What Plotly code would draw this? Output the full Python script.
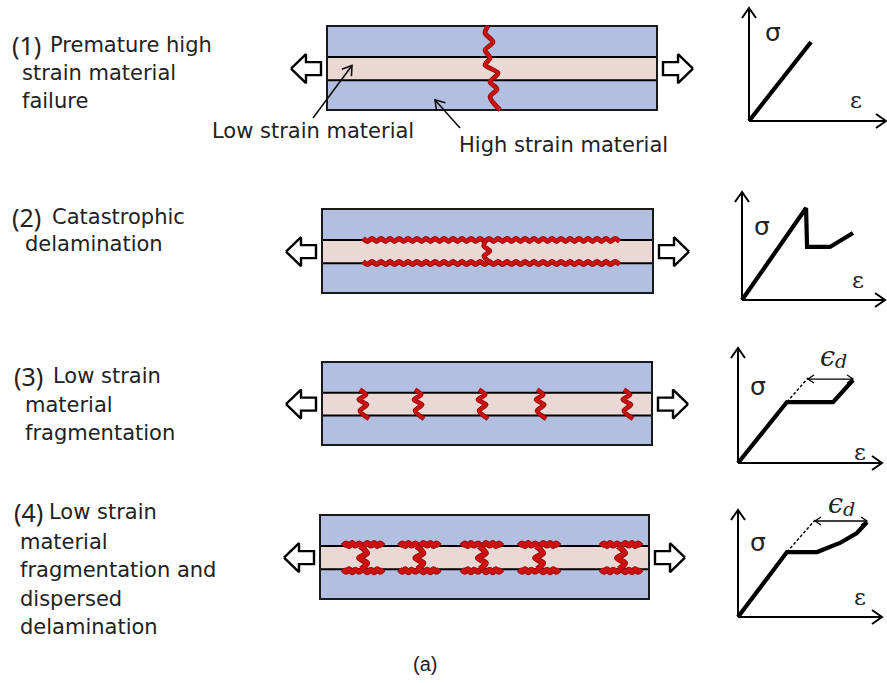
import math
import plotly.graph_objects as go

W, H = 887, 683

# ---------------- data ----------------
SPEC_LENGTH = 100.0                       # specimen length (% of gauge length)
LAYER_BOUNDS = [0.0, 3.55, 6.3, 10.0]     # thickness coordinates of the three plies
LAYER_COLORS = ["#b3bfe1", "#ead8d4", "#b3bfe1"]

CRACK_1 = [48.8]                          # through-thickness crack (1)
DELAM_2 = [12.4, 90.0]                    # delamination extent (2)
CRACK_2 = [49.5]                          # connecting crack (2)
CRACKS_3 = [12.4, 29.1, 48.5, 66.1, 92.4] # fragmentation cracks (3)
CRACKS_4 = [13.1, 30.2, 49.2, 66.6, 91.5] # fragmentation + local delamination (4)

# normalised stress-strain curves
SS1_STRAIN = [0.0, 0.453]
SS1_STRESS = [0.0, 0.699]
SS2_STRAIN = [0.0, 0.448, 0.455, 0.615, 0.776]
SS2_STRESS = [0.0, 0.852, 0.491, 0.491, 0.620]
SS3_STRAIN = [0.0, 0.340, 0.660, 0.799]
SS3_STRESS = [0.0, 0.530, 0.530, 0.722]
SS4_STRAIN = [0.0, 0.340, 0.549, 0.708, 0.826, 0.896]
SS4_STRESS = [0.0, 0.607, 0.607, 0.692, 0.785, 0.888]
SS3_DASH_STRAIN = [0.340, 0.486]
SS3_DASH_STRESS = [0.530, 0.739]
SS4_DASH_STRAIN = [0.340, 0.535]
SS4_DASH_STRESS = [0.607, 0.907]
ED3_STRAIN = [0.486, 0.799]
ED3_STRESS = 0.730
ED4_STRAIN = [0.535, 0.896]
ED4_STRESS = 0.897

ROW_TITLES = [
    ["(1)", "Premature high", "strain material", "failure"],
    ["(2)", "Catastrophic", "delamination"],
    ["(3)", "Low strain", "material", "fragmentation"],
    ["(4)", "Low strain", "material", "fragmentation and", "dispersed", "delamination"],
]
LEGEND_LABELS = ["Low strain material", "High strain material"]
CAPTION = "(a)"

# ---------------- layout helpers (pixel frames) ----------------
SPEC_BOX = [(327, 26, 657, 110), (322, 209, 653, 293), (322, 362, 652, 445), (320, 515, 649, 599)]
SS_BOX = [(749, 8, 886, 121), (742, 192, 885, 300), (738, 348, 882, 463), (738, 510, 882, 617)]

layout = dict(width=W, height=H, margin=dict(l=0, r=0, t=0, b=0),
              paper_bgcolor="white", plot_bgcolor="rgba(0,0,0,0)",
              showlegend=False, shapes=[], annotations=[])


def ax_names(n):
    return ("x" if n == 1 else "x%d" % n, "y" if n == 1 else "y%d" % n)


def frame(n, box, vals, pad):
    L, T, R, B = box
    x0, x1, y0, y1 = vals
    pl, pt, pr, pb = pad
    sx = (x1 - x0) / (R - L)
    sy = (y1 - y0) / (B - T)
    xn, yn = ax_names(n)
    layout["xaxis" if n == 1 else "xaxis%d" % n] = dict(
        domain=[max(0, (L - pl) / W), min(1, (R + pr) / W)],
        range=[x0 - pl * sx, x1 + pr * sx], visible=False, fixedrange=True, anchor=yn)
    layout["yaxis" if n == 1 else "yaxis%d" % n] = dict(
        domain=[max(0, 1 - (B + pb) / H), min(1, 1 - (T - pt) / H)],
        range=[y0 - pb * sy, y1 + pt * sy], visible=False, fixedrange=True, anchor=xn)
    return sx, sy


fig = go.Figure()
RED = "#cc1111"
DARKRED = "#8e0a0a"
TXT = "#222222"


def line(xn, yn, xs, ys, color="black", width=2, dash=None, shape="linear", fill=None, fillcolor=None):
    fig.add_trace(go.Scatter(x=xs, y=ys, xaxis=xn, yaxis=yn, mode="lines",
                             line=dict(color=color, width=width, dash=dash, shape=shape, smoothing=0.8),
                             fill=fill, fillcolor=fillcolor, hoverinfo="skip", showlegend=False))


def crack(xn, yn, xs, ys, width):
    line(xn, yn, xs, ys, color=DARKRED, width=width + 1.6, shape="spline")
    line(xn, yn, xs, ys, color=RED, width=width, shape="spline")


def chevron(xn, yn, sx, sy, tip, frm, arm, half, width, color="black"):
    """open V arrow head at data point `tip`, pointing away from data point `frm`."""
    dx = (tip[0] - frm[0]) / sx
    dy = (tip[1] - frm[1]) / sy
    d = math.hypot(dx, dy)
    ux, uy = dx / d, dy / d
    px_, py_ = -uy, ux
    pts = [(-arm * ux + half * px_, -arm * uy + half * py_), (0, 0),
           (-arm * ux - half * px_, -arm * uy - half * py_)]
    line(xn, yn, [tip[0] + p[0] * sx for p in pts], [tip[1] + p[1] * sy for p in pts],
         color=color, width=width)


def arrow(xn, yn, sx, sy, tail, head, arm, half, width, both=False, color="black"):
    line(xn, yn, [tail[0], head[0]], [tail[1], head[1]], color=color, width=width)
    chevron(xn, yn, sx, sy, head, tail, arm, half, width, color)
    if both:
        chevron(xn, yn, sx, sy, tail, head, arm, half, width, color)


def label(xn, yn, x, y, txt, family, size, style="normal"):
    layout["annotations"].append(dict(x=x, y=y, xref=xn, yref=yn, text=txt, showarrow=False,
                                      font=dict(family=family, size=size, color=TXT, style=style)))


ARROW_PX = [(0, 0), (15, 14.5), (15, 6.5), (30, 6.5), (30, -6.5), (15, -6.5), (15, -14.5), (0, 0)]
ymid = (LAYER_BOUNDS[1] + LAYER_BOUNDS[2]) / 2

spec_scales = []
for i in range(4):
    n = i + 1
    pad_b = 45 if i == 0 else 4
    sx, sy = frame(n, SPEC_BOX[i], (0, SPEC_LENGTH, LAYER_BOUNDS[0], LAYER_BOUNDS[-1]), (45, 4, 45, pad_b))
    spec_scales.append((sx, sy))
    xn, yn = ax_names(n)
    for k in range(3):
        layout["shapes"].append(dict(type="rect", xref=xn, yref=yn, x0=0, x1=SPEC_LENGTH,
                                     y0=LAYER_BOUNDS[k], y1=LAYER_BOUNDS[k + 1],
                                     fillcolor=LAYER_COLORS[k], line=dict(width=0), layer="below"))
    for yb in LAYER_BOUNDS[1:3]:
        layout["shapes"].append(dict(type="line", xref=xn, yref=yn, x0=0, x1=SPEC_LENGTH, y0=yb, y1=yb,
                                     line=dict(color="black", width=2), layer="below"))
    layout["shapes"].append(dict(type="rect", xref=xn, yref=yn, x0=0, x1=SPEC_LENGTH,
                                 y0=LAYER_BOUNDS[0], y1=LAYER_BOUNDS[-1],
                                 line=dict(color="#1a1a1a", width=2), layer="below"))
    # hollow loading arrows
    lx = [(-36 + p[0]) * sx for p in ARROW_PX]
    rx = [SPEC_LENGTH + (36 - p[0]) * sx for p in ARROW_PX]
    ay_ = [ymid + p[1] * sy for p in ARROW_PX]
    line(xn, yn, lx, ay_, color="black", width=2.4, fill="toself", fillcolor="white")
    line(xn, yn, rx, ay_, color="black", width=2.4, fill="toself", fillcolor="white")

# ---- panel 1 crack
sx, sy = spec_scales[0]
Z1 = [(0, 0), (-3, 7), (5, 16), (-3, 24), (2, 32), (-3, 39), (10, 47), (2, 56), (9, 63), (2, 71), (12, 84)]
for c in CRACK_1:
    crack("x", "y", [c + d[0] * sx for d in Z1], [LAYER_BOUNDS[-1] - d[1] * sy for d in Z1], 3.2)
# leader arrows
arrow("x", "y", sx, sy, (-14 * sx, LAYER_BOUNDS[-1] - 92 * sy), (25 * sx, 5.3), 9, 6, 1.6, color="#111")
arrow("x", "y", sx, sy, (133 * sx, LAYER_BOUNDS[-1] - 102 * sy), (108 * sx, 1.2), 9, 6, 1.6, color="#111")

# ---- panel 2 delamination
sx, sy = spec_scales[1]
xn, yn = ax_names(2)
STEP = 4.5
for yb in LAYER_BOUNDS[1:3]:
    xs, ys = [], []
    k = 0
    x = DELAM_2[0]
    while x <= DELAM_2[1]:
        xs.append(x)
        ys.append(yb + (1.6 if k % 2 == 0 else -1.2) * sy)
        x += STEP * sx
        k += 1
    crack(xn, yn, xs, ys, 3.6)
Z2 = [(0, 0), (-2, 6), (4, 11), (-2, 16), (5, 23)]
for c in CRACK_2:
    crack(xn, yn, [c + d[0] * sx for d in Z2], [LAYER_BOUNDS[2] - d[1] * sy for d in Z2], 3.2)

# ---- panel 3 fragmentation
sx, sy = spec_scales[2]
xn, yn = ax_names(3)
Z3 = [(-3, -3), (3, 2), (-4, 7), (4, 12), (-3, 18), (6, 26)]
for c in CRACKS_3:
    crack(xn, yn, [c + d[0] * sx for d in Z3], [LAYER_BOUNDS[2] - d[1] * sy for d in Z3], 3.2)

# ---- panel 4 fragmentation + dispersed delamination
sx, sy = spec_scales[3]
xn, yn = ax_names(4)
ARM = [(-20, 0), (-17, 2.5), (-14, 0), (-11, 3), (-8, 0.5), (-4, 2.5), (0, 0), (4, 3), (8, 0.5),
       (11, 3), (14, 0), (17, 2.5), (20, 0)]
Z4 = [(-3, 0), (4, 7), (-4, 12), (4, 17), (-2, 23)]
for c in CRACKS_4:
    crack(xn, yn, [c + d[0] * sx for d in ARM], [LAYER_BOUNDS[2] + d[1] * sy for d in ARM], 4.4)
    crack(xn, yn, [c + d[0] * sx for d in ARM], [LAYER_BOUNDS[1] - d[1] * sy for d in ARM], 4.4)
    crack(xn, yn, [c + d[0] * sx for d in Z4], [LAYER_BOUNDS[2] - d[1] * sy for d in Z4], 4.4)

# ---------------- stress-strain sketches ----------------
SS = [(SS1_STRAIN, SS1_STRESS), (SS2_STRAIN, SS2_STRESS), (SS3_STRAIN, SS3_STRESS), (SS4_STRAIN, SS4_STRESS)]
SIG_POS = [(0.173, 0.779), (0.14, 0.676), (0.139, 0.661), (0.139, 0.70)]
EPS_POS = [(0.784, 0.186), (0.811, 0.185), (0.847, 0.096), (0.847, 0.187)]
for i in range(4):
    n = 5 + i
    R = SS_BOX[i][2]
    ssx, ssy = frame(n, SS_BOX[i], (0, 1, 0, 1), (8, 8, min(8, W - R), 8))
    xn, yn = ax_names(n)
    arrow(xn, yn, ssx, ssy, (0, 0), (0, 1), 10, 7, 2)
    arrow(xn, yn, ssx, ssy, (0, 0), (1, 0), 10, 7, 2)
    line(xn, yn, SS[i][0], SS[i][1], color="black", width=4.2)
    label(xn, yn, SIG_POS[i][0], SIG_POS[i][1], "σ", "DejaVu Sans", 25)
    label(xn, yn, EPS_POS[i][0], EPS_POS[i][1], "ε", "DejaVu Serif", 23)

for n, dsx, dsy, ed, eds, lab in [(7, SS3_DASH_STRAIN, SS3_DASH_STRESS, ED3_STRAIN, ED3_STRESS, (0.62, 0.93)),
                                  (8, SS4_DASH_STRAIN, SS4_DASH_STRESS, ED4_STRAIN, ED4_STRESS, (0.675, 1.06))]:
    xn, yn = ax_names(n)
    ssx, ssy = 1.0 / (SS_BOX[n - 5][2] - SS_BOX[n - 5][0]), 1.0 / (SS_BOX[n - 5][3] - SS_BOX[n - 5][1])
    line(xn, yn, dsx, dsy, color="black", width=1.4, dash="3px,2px")
    arrow(xn, yn, ssx, ssy, (ed[0], eds), (ed[1], eds), 6, 4, 1.3, both=True)
    label(xn, yn, lab[0], lab[1], "ϵ", "DejaVu Serif", 27, style="italic")
    label(xn, yn, lab[0] + 14 * ssx, lab[1] - 5 * ssy, "d", "DejaVu Serif", 19, style="italic")

# ---------------- texts ----------------
def ptext(txt, px, py, family="DejaVu Sans", size=21, anchor="left"):
    layout["annotations"].append(dict(x=px / W, y=1 - py / H, xref="paper", yref="paper", text=txt,
                                      showarrow=False, xanchor=anchor, yanchor="middle",
                                      font=dict(family=family, size=size, color=TXT)))

ROW_POS = [
    [(10, 45), (48, 45), (20, 73), (20, 101)],
    [(10, 217), (50, 217), (23, 244)],
    [(12, 376), (51, 376), (23, 405), (23, 433)],
    [(12, 512), (47, 512), (18, 542), (18, 570), (18, 599), (18, 627)],
]
for lines_, pos in zip(ROW_TITLES, ROW_POS):
    for j, (t, p) in enumerate(zip(lines_, pos)):
        if j == 0:
            ptext(t, p[0], p[1], family="Noto Sans", size=25)
        else:
            ptext(t, p[0], p[1])
ptext(LEGEND_LABELS[0], 210, 131)
ptext(LEGEND_LABELS[1], 457, 145)
ptext(CAPTION, 425, 664, family="Liberation Sans", size=20, anchor="center")

fig.update_layout(**layout)
fig.write_html("out.html", config=dict(displayModeBar=False, staticPlot=True))
